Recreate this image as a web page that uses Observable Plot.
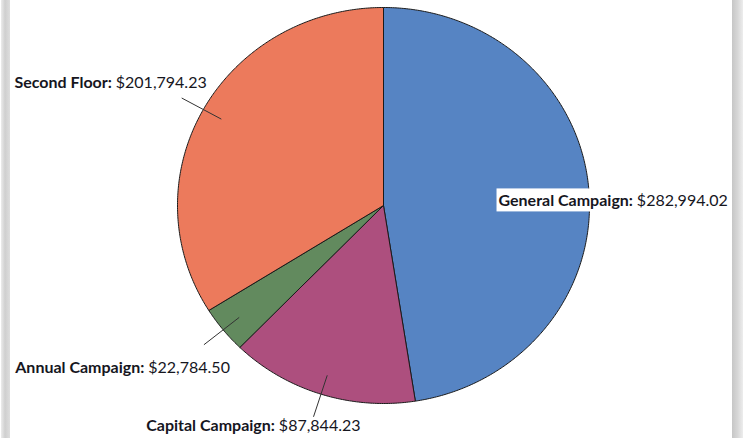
<!DOCTYPE html>
<html><head><meta charset="utf-8">
<script src="https://cdn.jsdelivr.net/npm/d3@7"></script>
<script src="https://cdn.jsdelivr.net/npm/@observablehq/plot@0.6"></script>
<style>
body{margin:0;background:#fff;}
#wrap{position:relative;width:747px;height:438px;overflow:hidden;background:#fff;}
.bar{position:absolute;top:0;height:438px;}
#lb{left:1px;width:9px;background:linear-gradient(to right,#ececec,#cfcfcf 45%,#dedede);}
#rb{left:732px;width:11px;background:linear-gradient(to right,#c6c6c6,#d6d6d6 50%,#ededed);}
#chart{position:absolute;left:0;top:0;}
</style></head><body>
<div id="wrap"><div class="bar" id="lb"></div><div class="bar" id="rb"></div><div id="chart"></div></div>
<script>
// ---- data ----
const categories = ["General Campaign", "Capital Campaign", "Annual Campaign", "Second Floor"];
const amounts = [282994.02, 87844.23, 22784.50, 201794.23];
// ---- style ----
const colors = ["#5684C3", "#AD4F7E", "#628A5E", "#EC7A5C"];
const labelLayout = {
  "General Campaign": {anchor: "start", dx: -115, dy: 13, leader: false},
  "Capital Campaign": {anchor: "end", dx: 47, dy: 9, leader: true},
  "Annual Campaign": {anchor: "end", dx: 26, dy: 23, leader: true},
  "Second Floor": {anchor: "end", dx: 25, dy: -15, leader: true}
};
const fmt = d3.format("$,.2f");

const rows = categories.map((name, i) => ({name, amount: amounts[i]}));
const arcs = d3.pie().sort(null).value(d => d.amount)(rows);

// wedge outlines sampled along each arc
const wedgePts = [];
arcs.forEach(a => {
  const name = a.data.name;
  wedgePts.push({name, x: 0, y: 0});
  const n = Math.max(2, Math.ceil((a.endAngle - a.startAngle) / (Math.PI / 360)));
  for (let k = 0; k <= n; k++) {
    const t = a.startAngle + (a.endAngle - a.startAngle) * k / n;
    wedgePts.push({name, x: Math.sin(t), y: Math.cos(t)});
  }
  wedgePts.push({name, x: 0, y: 0});
});

const labelRows = arcs.map(a => {
  const m = (a.startAngle + a.endAngle) / 2;
  return {
    name: a.data.name,
    label: a.data.name + ": " + fmt(a.data.amount),
    x1: 0.9 * Math.sin(m), y1: 0.9 * Math.cos(m),
    x2: 1.12 * Math.sin(m), y2: 1.12 * Math.cos(m)
  };
});

const marks = [
  Plot.line(wedgePts, {x: "x", y: "y", z: "name", fill: "name", stroke: "#1a1a1a", strokeWidth: 1, curve: "linear", strokeLinejoin: "round"}),
  Plot.link(labelRows.filter(d => labelLayout[d.name].leader), {x1: "x1", y1: "y1", x2: "x2", y2: "y2", stroke: "#333", strokeWidth: 1})
];
categories.forEach(c => {
  const L = labelLayout[c];
  marks.push(Plot.text(labelRows.filter(d => d.name === c), {
    x: "x2", y: "y2", text: "label", textAnchor: L.anchor, dx: L.dx, dy: L.dy, fill: "#16161e"
  }));
});

const chart = Plot.plot({
  width: 747, height: 438, margin: 0,
  x: {domain: [-1, 1], range: [177, 589], axis: null},
  y: {domain: [-1, 1], range: [403, 7], axis: null},
  color: {domain: categories, range: colors},
  style: {fontFamily: "Lato, 'Open Sans', sans-serif", fontSize: "16px", background: "transparent", overflow: "visible"},
  marks
});
document.getElementById("chart").appendChild(chart);

// bold category name, regular value; white box behind the General label
chart.querySelectorAll("text").forEach(t => {
  const s = t.textContent;
  const i = s.indexOf(": ");
  if (i < 0) return;
  t.textContent = "";
  const b = document.createElementNS("http://www.w3.org/2000/svg", "tspan");
  b.setAttribute("font-weight", "bold");
  b.textContent = s.slice(0, i + 1) + " ";
  const v = document.createElementNS("http://www.w3.org/2000/svg", "tspan");
  v.textContent = s.slice(i + 2);
  t.appendChild(b); t.appendChild(v);
  if (s.startsWith("General")) {
    const bb = t.getBBox();
    const r = document.createElementNS("http://www.w3.org/2000/svg", "rect");
    r.setAttribute("x", bb.x - 2); r.setAttribute("y", bb.y - 2);
    r.setAttribute("width", bb.width + 4); r.setAttribute("height", bb.height + 4);
    r.setAttribute("fill", "#fff");
    if (t.getAttribute("transform")) r.setAttribute("transform", t.getAttribute("transform"));
    t.parentNode.insertBefore(r, t);
  }
});
</script>
</body></html>
